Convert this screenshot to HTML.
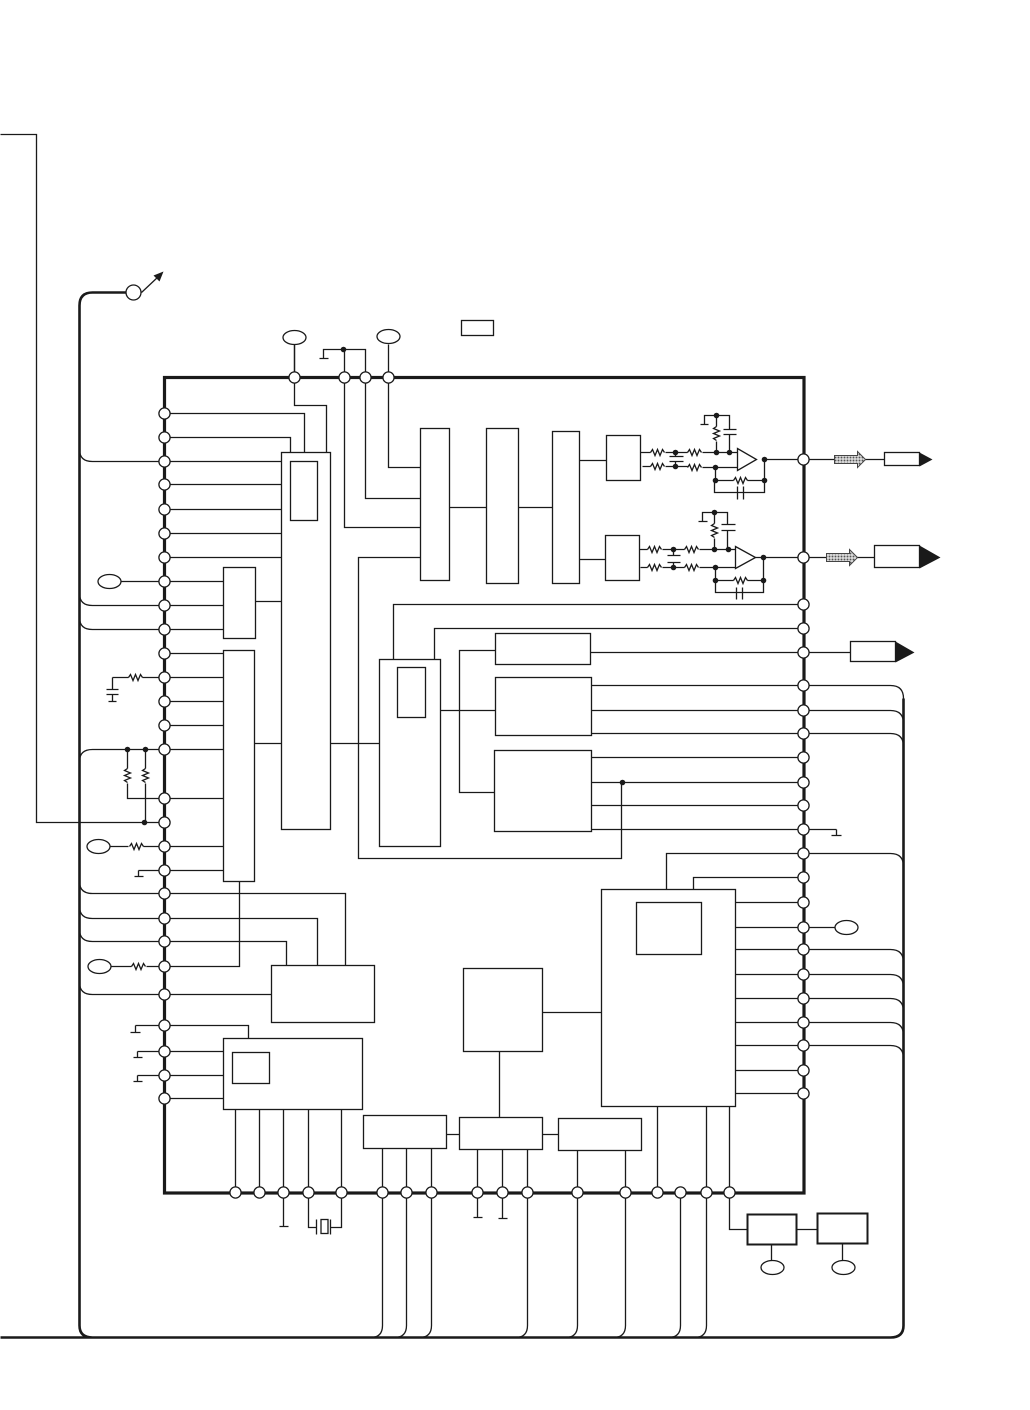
<!DOCTYPE html>
<html><head><meta charset="utf-8"><style>
html,body{margin:0;padding:0;background:#fff;width:1030px;height:1410px;overflow:hidden}
svg{display:block}
.l{fill:none;stroke:#1a1a1a;stroke-width:1.3}
.b{fill:#fff;stroke:#1a1a1a;stroke-width:1.3}
.t{fill:none;stroke:#1a1a1a;stroke-width:2.6}
.m{fill:none;stroke:#1a1a1a;stroke-width:3.2}
.p{fill:#fff;stroke:#1a1a1a;stroke-width:1.3}
.f{fill:#1a1a1a;stroke:none}
</style></head><body>
<svg width="1030" height="1410" viewBox="0 0 1030 1410" xmlns="http://www.w3.org/2000/svg">
<defs>
<path id="r" d="M0 0l2-3 2.500 6 2.500-6 2.500 6 2.500-6 2 3" fill="none" stroke="#1a1a1a" stroke-width="1.3"/>
<path id="v" d="M0 0l-3 2 6 2.500-6 2.500 6 2.500-6 2.500 3 2" fill="none" stroke="#1a1a1a" stroke-width="1.3"/>
<circle id="n" r="2.800" fill="#1a1a1a"/>
<circle id="c" r="5.600" fill="#fff" stroke="#1a1a1a" stroke-width="1.3"/>
<pattern id="h" width="3" height="3" patternUnits="userSpaceOnUse"><rect width="3" height="3" fill="#fff"/><rect width="2" height="2" fill="#555"/></pattern>
</defs>
<g transform="translate(.5 .5)">

<!-- outer thick bus -->
<path class="t" d="M126 292H92Q79 292 79 305V1325Q79 1337 92 1337M0 1337H890Q903 1337 903 1325V698"/>
<path class="l" d="M141 292L158 276"/><path class="f" d="M163 271L153 275 159 281Z"/>
<path class="l" d="M0 134H36V822H164"/>

<!-- left branches -->
<path class="l" d="M79 449Q79 461 92 461H281M79 593Q79 605 92 605H223M79 617Q79 629 92 629H223M79 761Q79 749 92 749H223M79 881Q79 893 92 893H345V965M79 906Q79 918 92 918H317V965M79 929Q79 941 92 941H286V965M79 982Q79 994 92 994H271"/>

<!-- right branches -->
<path class="l" d="M591 685H890Q903 685 903 698M591 710H890Q903 710 903 723M591 733H890Q903 733 903 746M666 889V853H890Q903 853 903 866M735 949H890Q903 949 903 962M735 974H890Q903 974 903 987M735 998H890Q903 998 903 1011M735 1022H890Q903 1022 903 1035M735 1045H890Q903 1045 903 1058"/>

<!-- bottom branches -->
<path class="l" d="M382 1148V1325Q382 1337 370 1337M406 1148V1325Q406 1337 394 1337M431 1148V1325Q431 1337 419 1337M527 1149V1325Q527 1337 515 1337M577 1150V1325Q577 1337 565 1337M625 1150V1325Q625 1337 613 1337M680 1192V1325Q680 1337 668 1337M706 1106V1325Q706 1337 694 1337"/>

<!-- left pin connections -->
<path class="l" d="M164 413H304V452M164 437H290V452M294 344V405H326V452M164 484H281M164 509H281M164 533H281M164 557H281M109 581H223M255 601H281M164 653H223M112 677H128M142 677H223M164 701H223M164 725H223M254 743H281M330 743H379M127 749V768M127 783V798H223M145 749V768M145 783V822M98 846H128M143 846H223M138 870H223M138 870V876M134 876H143M99 966H131M146 966H239V881M112 677V689M106 689H118M106 694H118M112 694V701M108 701H116"/>
<use href="#r" x="128" y="677"/><use href="#v" x="127" y="768"/><use href="#v" x="145" y="768"/><use href="#r" x="129" y="846"/><use href="#r" x="131" y="966"/>
<use href="#n" x="127" y="749"/><use href="#n" x="145" y="749"/><use href="#n" x="144" y="822"/>

<!-- lower-left -->
<path class="l" d="M135 1025H248V1038M137 1051H223M137 1075H223M164 1098H223M135 1025V1032M130 1032H140M137 1051V1057M133 1057H142M137 1075V1081M133 1081H142"/>

<!-- top -->
<path class="l" d="M323 358V349H365V377M319 358H328M344 349V527H420M365 377V498H420M388 344V467H420M294 344V377"/>
<use href="#n" x="343" y="349"/>
<rect class="b" x="461" y="320" width="32" height="15"/>

<!-- internal -->
<path class="l" d="M420 557H358V858H621V782M449 507H486M518 507H552M579 460H606M579 559H605M393 659V604H803M434 659V628H803M590 652H850M440 710H495M495 650H459V792H494M591 757H803M591 782H803M591 805H803M591 829H836M836 829V835M831 835H841M693 889V877H803M735 902H803M701 927H835M735 1070H803M735 1093H803M542 1012H601M499 1051V1117M446 1134H459M542 1134H558"/>
<use href="#n" x="622" y="782"/>

<!-- bottom connectors -->
<path class="l" d="M235 1109V1192M259 1109V1192M283 1109V1226M279 1226H288M308 1109V1227H316M316 1219V1234M330 1219V1234M330 1227H341V1109M477 1149V1217M473 1217H482M502 1149V1218M498 1218H507M657 1106V1192M729 1106V1229H747M796 1229H817M771 1244V1260M842 1243V1260"/>
<rect class="l" x="320.500" y="1219" width="7" height="14"/>

<!-- blocks -->
<g class="b">
<rect x="281" y="452" width="49" height="377"/><rect x="290" y="461" width="27" height="59"/>
<rect x="223" y="567" width="32" height="71"/>
<rect x="223" y="650" width="31" height="231"/>
<rect x="420" y="428" width="29" height="152"/>
<rect x="486" y="428" width="32" height="155"/>
<rect x="552" y="431" width="27" height="152"/>
<rect x="606" y="435" width="34" height="45"/>
<rect x="605" y="535" width="34" height="45"/>
<rect x="379" y="659" width="61" height="187"/><rect x="397" y="667" width="28" height="50"/>
<rect x="495" y="633" width="95" height="31"/>
<rect x="495" y="677" width="96" height="58"/>
<rect x="494" y="750" width="97" height="81"/>
<rect x="601" y="889" width="134" height="217"/><rect x="636" y="902" width="65" height="52"/>
<rect x="271" y="965" width="103" height="57"/>
<rect x="463" y="968" width="79" height="83"/>
<rect x="223" y="1038" width="139" height="71"/><rect x="232" y="1052" width="37" height="31"/>
<rect x="363" y="1115" width="83" height="33"/>
<rect x="459" y="1117" width="83" height="32"/>
<rect x="558" y="1118" width="83" height="32"/>
</g>
<rect x="747" y="1214" width="49" height="30" fill="#fff" stroke="#1a1a1a" stroke-width="2"/>
<rect x="817" y="1213" width="50" height="30" fill="#fff" stroke="#1a1a1a" stroke-width="2"/>

<!-- upper analog -->
<path class="l" d="M640 452H650M665 452H687M702 452H737M642 466H650M665 466H687M702 467H737M675 452V456M669 456H683M669 461H683M675 461V466M716 415V426M716 441V452M704 424V415H729V429M723 429H736M723 434H736M729 434V452M700 424H708M715 467V480M714 480V492H764V459M715 480H733M747 480H764M737 486V499M743 486V499M764 459H884"/>
<use href="#r" x="650" y="452"/><use href="#r" x="650" y="466"/><use href="#r" x="687" y="452"/><use href="#r" x="687" y="467"/><use href="#v" x="716" y="426"/><use href="#r" x="733" y="480"/>
<path class="b" d="M737 448V470L756 459Z"/>
<g><use href="#n" x="716" y="415"/><use href="#n" x="675" y="452"/><use href="#n" x="675" y="466"/><use href="#n" x="716" y="452"/><use href="#n" x="729" y="452"/><use href="#n" x="715" y="467"/><use href="#n" x="715" y="480"/><use href="#n" x="764" y="459"/><use href="#n" x="764" y="480"/></g>

<!-- lower analog -->
<path class="l" d="M639 549H647M662 549H684M699 549H735M640 567H647M662 567H684M699 567H735M673 549V555M667 555H680M667 562H680M673 562V567M714 512V523M714 538V549M702 521V512H727V524M721 524H735M721 530H735M727 530V549M698 521H707M715 567V592H763V557M715 580H733M747 580H763M736 587V599M742 587V599M755 557H874"/>
<use href="#r" x="647" y="549"/><use href="#r" x="647" y="567"/><use href="#r" x="684" y="549"/><use href="#r" x="684" y="567"/><use href="#v" x="714" y="523"/><use href="#r" x="733" y="580"/>
<path class="b" d="M735 546V568L755 557Z"/>
<g><use href="#n" x="714" y="512"/><use href="#n" x="673" y="549"/><use href="#n" x="673" y="567"/><use href="#n" x="714" y="549"/><use href="#n" x="728" y="549"/><use href="#n" x="715" y="567"/><use href="#n" x="715" y="580"/><use href="#n" x="763" y="557"/><use href="#n" x="763" y="580"/></g>

<!-- output arrows -->
<path d="M834 455H857V451L865 459 857 467V463H834Z" fill="url(#h)" stroke="#444" stroke-width="1"/>
<path d="M826 553H849V549L857 557 849 565V561H826Z" fill="url(#h)" stroke="#444" stroke-width="1"/>
<rect class="b" x="884" y="452" width="35" height="13"/><path class="f" d="M919 452L932 459 919 466Z"/>
<rect class="b" x="874" y="545" width="45" height="22"/><path class="f" d="M919 545L940 557 919 568Z"/>
<rect class="b" x="850" y="641" width="45" height="20"/><path class="f" d="M895 641L914 652 895 662Z"/>

<!-- main box -->
<rect class="m" x="164" y="377" width="639.500" height="815.500"/>

<!-- ovals -->
<g class="p">
<ellipse cx="294" cy="337" rx="11.500" ry="7"/><ellipse cx="388" cy="336" rx="11.500" ry="7"/>
<ellipse cx="109" cy="581" rx="11.500" ry="7"/><ellipse cx="98" cy="846" rx="11.500" ry="7"/><ellipse cx="99" cy="966" rx="11.500" ry="7"/>
<ellipse cx="846" cy="927" rx="11.500" ry="7"/><ellipse cx="772" cy="1267" rx="11.500" ry="7"/><ellipse cx="843" cy="1267" rx="11.500" ry="7"/>
<circle cx="133" cy="292" r="7.500"/>
</g>

<!-- left pins -->
<use href="#c" x="164" y="413"/><use href="#c" x="164" y="437"/><use href="#c" x="164" y="461"/><use href="#c" x="164" y="484"/><use href="#c" x="164" y="509"/><use href="#c" x="164" y="533"/><use href="#c" x="164" y="557"/><use href="#c" x="164" y="581"/><use href="#c" x="164" y="605"/><use href="#c" x="164" y="629"/><use href="#c" x="164" y="653"/><use href="#c" x="164" y="677"/><use href="#c" x="164" y="701"/><use href="#c" x="164" y="725"/><use href="#c" x="164" y="749"/><use href="#c" x="164" y="798"/><use href="#c" x="164" y="822"/><use href="#c" x="164" y="846"/><use href="#c" x="164" y="870"/><use href="#c" x="164" y="893"/><use href="#c" x="164" y="918"/><use href="#c" x="164" y="941"/><use href="#c" x="164" y="966"/><use href="#c" x="164" y="994"/><use href="#c" x="164" y="1025"/><use href="#c" x="164" y="1051"/><use href="#c" x="164" y="1075"/><use href="#c" x="164" y="1098"/>
<!-- right pins -->
<use href="#c" x="803" y="459"/><use href="#c" x="803" y="557"/><use href="#c" x="803" y="604"/><use href="#c" x="803" y="628"/><use href="#c" x="803" y="652"/><use href="#c" x="803" y="685"/><use href="#c" x="803" y="710"/><use href="#c" x="803" y="733"/><use href="#c" x="803" y="757"/><use href="#c" x="803" y="782"/><use href="#c" x="803" y="805"/><use href="#c" x="803" y="829"/><use href="#c" x="803" y="853"/><use href="#c" x="803" y="877"/><use href="#c" x="803" y="902"/><use href="#c" x="803" y="927"/><use href="#c" x="803" y="949"/><use href="#c" x="803" y="974"/><use href="#c" x="803" y="998"/><use href="#c" x="803" y="1022"/><use href="#c" x="803" y="1045"/><use href="#c" x="803" y="1070"/><use href="#c" x="803" y="1093"/>
<!-- top pins -->
<use href="#c" x="294" y="377"/><use href="#c" x="344" y="377"/><use href="#c" x="365" y="377"/><use href="#c" x="388" y="377"/>
<!-- bottom pins -->
<use href="#c" x="235" y="1192"/><use href="#c" x="259" y="1192"/><use href="#c" x="283" y="1192"/><use href="#c" x="308" y="1192"/><use href="#c" x="341" y="1192"/><use href="#c" x="382" y="1192"/><use href="#c" x="406" y="1192"/><use href="#c" x="431" y="1192"/><use href="#c" x="477" y="1192"/><use href="#c" x="502" y="1192"/><use href="#c" x="527" y="1192"/><use href="#c" x="577" y="1192"/><use href="#c" x="625" y="1192"/><use href="#c" x="657" y="1192"/><use href="#c" x="680" y="1192"/><use href="#c" x="706" y="1192"/><use href="#c" x="729" y="1192"/>
</g>
</svg>
</body></html>
